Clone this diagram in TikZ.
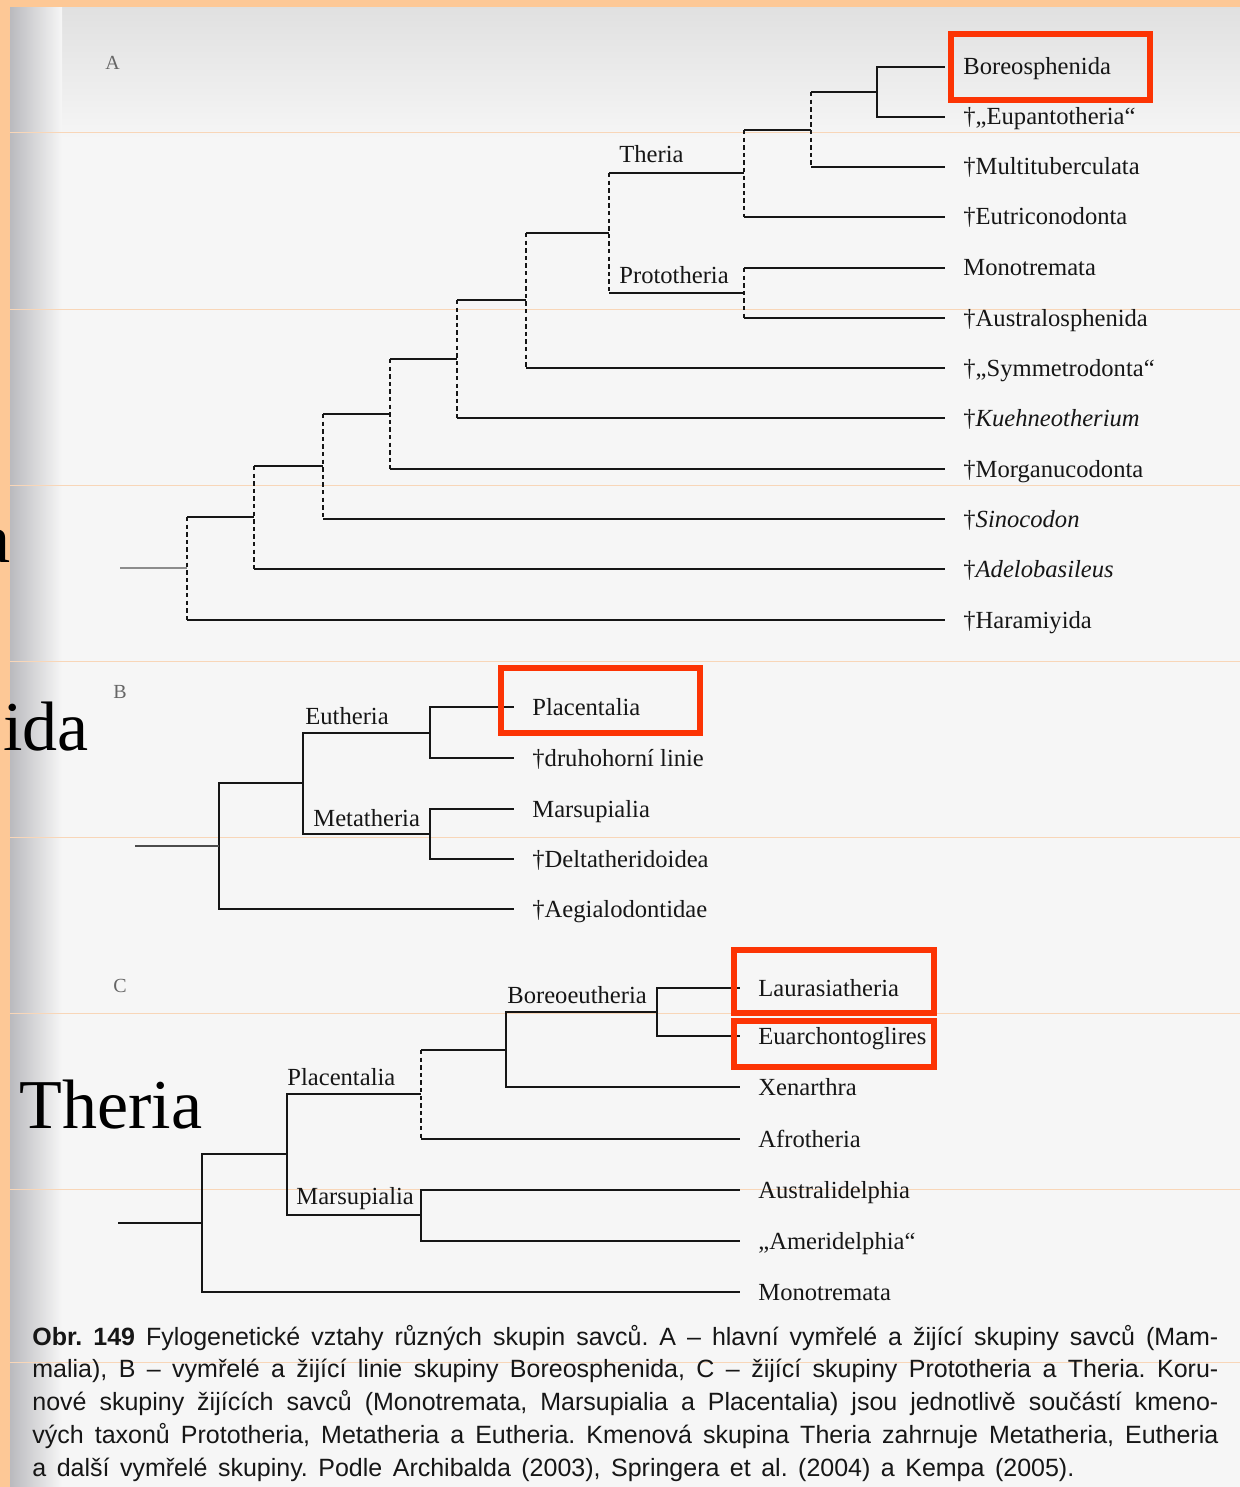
\documentclass[tikz,border=0pt]{standalone}
\usepackage{fontspec}
\setmainfont{Liberation Serif}
\newfontfamily\capfont{Liberation Sans}
\usepackage{tikz}
\frenchspacing
\definecolor{boxred}{RGB}{252,52,4}
\definecolor{peach}{RGB}{253,200,150}
\definecolor{paper}{RGB}{246,246,246}
\definecolor{shadow}{RGB}{186,186,190}
\definecolor{tablerule}{RGB}{248,214,184}
\definecolor{ink}{RGB}{22,22,22}
\tikzset{every picture/.append style={x=0.5pt, y=-0.5pt}}
\tikzset{
    leaf/.style={anchor=west, inner xsep=9pt, inner ysep=0pt, text height=9pt,
        text depth=1pt, text=ink, font=\fontsize{12.3}{14}\selectfont},
    clade/.style={anchor=base west, inner sep=0pt, text=ink,
        font=\fontsize{12.3}{14}\selectfont},
    panel/.style={anchor=base west, inner sep=0pt, text=black!60,
        font=\fontsize{10}{12}\selectfont},
    branch/.style={draw=ink, line width=1.15pt},
    stem/.style={branch, dash pattern=on 2.2pt off 1.6pt},
    redbox/.style={draw=boxred, line width=3pt},
    slidetext/.style={inner sep=0pt, text=black, font=\fontsize{35}{40}\selectfont},
    capline/.style={anchor=base west, inner sep=0pt, text=ink,
        font=\capfont\fontsize{12.5}{15}\selectfont},
    tableline/.style={draw=tablerule, line width=0.5pt}
}

\begin{document}
\begin{tikzpicture}
  \useasboundingbox (0,0) rectangle (1240,1487);
  \clip (0,0) rectangle (1240,1487);
  \fill[peach] (0,0) rectangle (1240,1487);
  \fill[paper] (10,8) rectangle (1240,1487);
  \shade[top color=black!12, bottom color=paper] (10,8) rectangle (1240,140);
  \shade[left color=shadow, right color=paper] (10,8) rectangle (62,1487);
  \foreach \y in {133,309,485,661,837,1013,1189,1362}
    \draw[tableline] (10,\y) -- (1240,\y);

  % A
  \node[panel] (pa) at (105,70) {A};
  \node[leaf] (la1) at (945,67) {Boreosphenida};
  \node[leaf] (la2) at (945,117) {†„Eupantotheria“};
  \node[leaf] (la3) at (945,167) {†Multituberculata};
  \node[leaf] (la4) at (945,217) {†Eutriconodonta};
  \node[leaf] (la5) at (945,268) {Monotremata};
  \node[leaf] (la6) at (945,318) {†Australosphenida};
  \node[leaf] (la7) at (945,368) {†„Symmetrodonta“};
  \node[leaf] (la8) at (945,418) {†\textit{Kuehneotherium}};
  \node[leaf] (la9) at (945,469) {†Morganucodonta};
  \node[leaf] (la10) at (945,519) {†\textit{Sinocodon}};
  \node[leaf] (la11) at (945,569) {†\textit{Adelobasileus}};
  \node[leaf] (la12) at (945,620) {†Haramiyida};

  \coordinate (a1) at (877,92);
  \coordinate (a2) at (811,130);
  \coordinate (a3) at (744,173);
  \coordinate (a4) at (744,293);
  \coordinate (a5) at (609,233);
  \coordinate (a6) at (526,300);
  \coordinate (a7) at (457,359);
  \coordinate (a8) at (390,414);
  \coordinate (a9) at (323,466);
  \coordinate (a10) at (254,517);
  \coordinate (a11) at (187,568);
  \coordinate (ra) at (120,568);

  \node[clade] (theria) at (619,163) {Theria};
  \node[clade] (proto) at (619,283) {Prototheria};

  \draw[branch] (a1) |- (la1.west);
  \draw[branch] (a1) |- (la2.west);
  \foreach \p/\u/\d in {a2/a1/la3.west, a3/a2/la4.west, a4/la5.west/la6.west,
      a5/a3/a4, a6/a5/la7.west, a7/a6/la8.west, a8/a7/la9.west,
      a9/a8/la10.west, a10/a9/la11.west, a11/a10/la12.west} {
    \draw[stem] (\p |- \u) -- (\p |- \d);
    \draw[branch] (\p |- \u) -- (\u) (\p |- \d) -- (\d);
  }
  \draw[branch, draw=black!45] (ra) -- (a11);

  % B
  \node[panel] (pb) at (113,698) {B};
  \node[leaf] (lb1) at (514,707) {Placentalia};
  \node[leaf] (lb2) at (514,758) {†druhohorní linie};
  \node[leaf] (lb3) at (514,809) {Marsupialia};
  \node[leaf] (lb4) at (514,859) {†Deltatheridoidea};
  \node[leaf] (lb5) at (514,909) {†Aegialodontidae};

  \coordinate (b1) at (430,733);
  \coordinate (b2) at (430,834);
  \coordinate (b3) at (303,783);
  \coordinate (b4) at (219,846);
  \coordinate (rb) at (135,846);

  \node[clade] (euth) at (305,724) {Eutheria};
  \node[clade] (meta) at (313,826) {Metatheria};

  \draw[branch] (b1) |- (lb1.west) (b1) |- (lb2.west);
  \draw[branch] (b2) |- (lb3.west) (b2) |- (lb4.west);
  \draw[branch] (b3) |- (b1) (b3) |- (b2);
  \draw[branch] (b4) |- (b3) (b4) |- (lb5.west);
  \draw[branch, draw=black!70] (rb) -- (b4);

  % C
  \node[panel] (pc) at (113,992) {C};
  \node[leaf] (lc1) at (740,988) {Laurasiatheria};
  \node[leaf] (lc2) at (740,1036) {Euarchontoglires};
  \node[leaf] (lc3) at (740,1087) {Xenarthra};
  \node[leaf] (lc4) at (740,1139) {Afrotheria};
  \node[leaf] (lc5) at (740,1190) {Australidelphia};
  \node[leaf] (lc6) at (740,1241) {„Ameridelphia“};
  \node[leaf] (lc7) at (740,1292) {Monotremata};

  \coordinate (c1) at (657,1012);
  \coordinate (c2) at (506,1050);
  \coordinate (c3) at (421,1094);
  \coordinate (c4) at (421,1215);
  \coordinate (c5) at (287,1154);
  \coordinate (c6) at (202,1223);
  \coordinate (rc) at (118,1223);

  \node[clade] (boreo) at (507,1003) {Boreoeutheria};
  \node[clade] (plac) at (287,1085) {Placentalia};
  \node[clade] (mars) at (296,1204) {Marsupialia};

  \draw[branch] (c1) |- (lc1.west) (c1) |- (lc2.west);
  \draw[branch] (c2) |- (c1) (c2) |- (lc3.west);
  \draw[stem] (c3 |- c2) -- (c3 |- lc4.west);
  \draw[branch] (c3 |- c2) -- (c2) (c3 |- lc4.west) -- (lc4.west);
  \draw[branch] (c4) |- (lc5.west) (c4) |- (lc6.west);
  \draw[branch] (c5) |- (c3) (c5) |- (c4);
  \draw[branch] (c6) |- (c5) (c6) |- (lc7.west);
  \draw[branch] (rc) -- (c6);

  % highlighted groups
  \draw[redbox] (951,34) rectangle (1150,100);
  \draw[redbox] (501,668) rectangle (700,733);
  \draw[redbox] (734,950) rectangle (934,1013);
  \draw[redbox] (734,1021) rectangle (934,1067);

  % slide text behind the scan
  \node[slidetext, anchor=base east] (sa) at (11,562) {a};
  \node[slidetext, anchor=base west] (sida) at (3,750) {ida};
  \node[slidetext, anchor=base west] (sth) at (19,1128) {Theria};

  % caption
  \node[capline] (cap1) at (32,1345) {\makebox[593pt][s]{\textbf{Obr. 149} Fylogenetické vztahy různých skupin savců. A – hlavní vymřelé a žijící skupiny savců (Mam-}};
  \node[capline] (cap2) at (32,1377) {\makebox[593pt][s]{malia), B – vymřelé a žijící linie skupiny Boreosphenida, C – žijící skupiny Prototheria a Theria. Koru-}};
  \node[capline] (cap3) at (32,1410) {\makebox[593pt][s]{nové skupiny žijících savců (Monotremata, Marsupialia a Placentalia) jsou jednotlivě součástí kmeno-}};
  \node[capline] (cap4) at (32,1443) {\makebox[593pt][s]{vých taxonů Prototheria, Metatheria a Eutheria. Kmenová skupina Theria zahrnuje Metatheria, Eutheria}};
  \node[capline] (cap5) at (32,1476) {\makebox[521pt][s]{a další vymřelé skupiny. Podle Archibalda (2003), Springera et al. (2004) a Kempa (2005).}};
\end{tikzpicture}
\end{document}
